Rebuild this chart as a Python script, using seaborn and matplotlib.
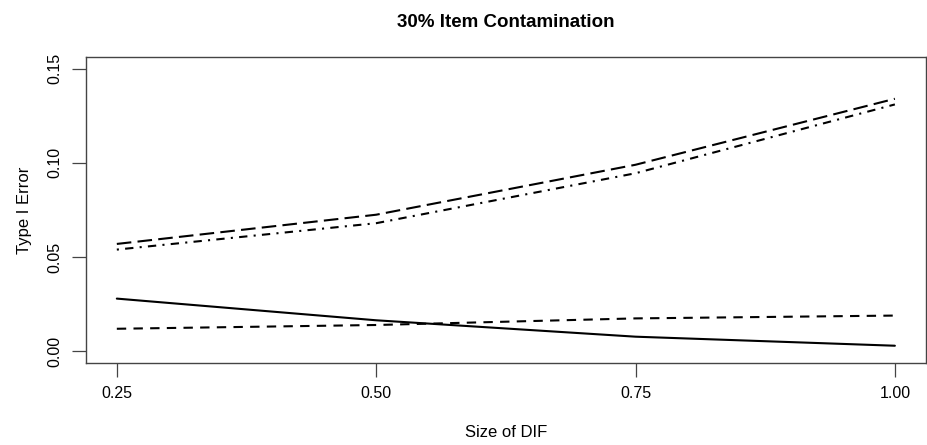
import matplotlib
matplotlib.use("Agg")
import matplotlib.pyplot as plt
import seaborn as sns
import pandas as pd

# Data
dif_size = [0.25, 0.50, 0.75, 1.00]
series_solid = [0.028, 0.0165, 0.0078, 0.003]
series_dashed = [0.012, 0.014, 0.0175, 0.019]
series_dotdash = [0.054, 0.068, 0.0945, 0.131]
series_longdash = [0.057, 0.0725, 0.099, 0.134]
x_ticks = [0.25, 0.50, 0.75, 1.00]
x_tick_labels = ["0.25", "0.50", "0.75", "1.00"]
y_ticks = [0.00, 0.05, 0.10, 0.15]
y_tick_labels = ["0.00", "0.05", "0.10", "0.15"]

sns.set_style("white")
plt.rcParams["font.family"] = ["Liberation Sans", "DejaVu Sans"]
plt.rcParams["text.color"] = "black"
plt.rcParams["axes.labelcolor"] = "black"
plt.rcParams["xtick.color"] = "black"
plt.rcParams["ytick.color"] = "black"

names = ["A", "B", "C", "D"]
vals = [series_solid, series_dashed, series_dotdash, series_longdash]
rows = []
for n, v in zip(names, vals):
    for x, y in zip(dif_size, v):
        rows.append({"size": x, "err": y, "method": n})
df = pd.DataFrame(rows)

dashes = {"A": "", "B": (4.5, 3.5), "C": (1, 3, 4, 3), "D": (7, 3)}

fig = plt.figure(figsize=(9.28, 4.45), dpi=100)
ax = fig.add_axes([85.7 / 928, 1 - 362.7 / 445, (926 - 85.7) / 928, (362.7 - 57.3) / 445])

sns.lineplot(data=df, x="size", y="err", style="method", dashes=dashes,
             color="black", linewidth=1.5, legend=False, ax=ax)

ax.set_xlim(0.22, 1.03)
ax.set_ylim(-0.006, 0.156)
ax.set_xticks(x_ticks)
ax.set_xticklabels(x_tick_labels)
ax.set_yticks(y_ticks)
ax.set_yticklabels(y_tick_labels, rotation=90, va="center")

for s in ax.spines.values():
    s.set_visible(True)
    s.set_color("#444444")
    s.set_linewidth(1.0)

ax.tick_params(axis="both", direction="out", length=10, width=0.9, color="#444444",
               labelcolor="black", labelsize=11.5, pad=7, bottom=True, left=True)
ax.set_xlabel("Size of DIF", fontsize=12, labelpad=17, color="black")
ax.set_ylabel("Type I Error", fontsize=12, labelpad=11, color="black")
ax.set_title("30% Item Contamination", fontsize=13.5, fontweight="bold", pad=22, color="black")

fig.savefig("out.png", dpi=100)
